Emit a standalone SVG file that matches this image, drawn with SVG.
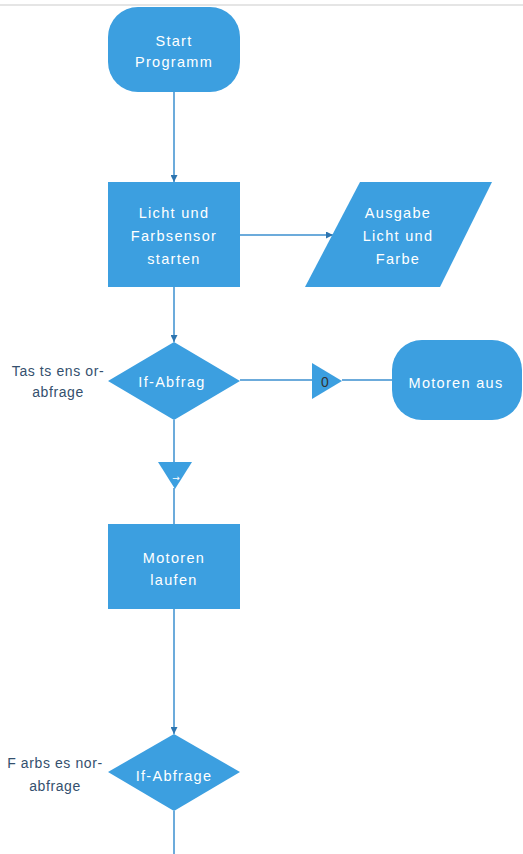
<svg xmlns="http://www.w3.org/2000/svg" width="523" height="854" viewBox="0 0 523 854">
<style>
.n{fill:#3c9fe0;}
.t{font-family:"Liberation Sans",Arial,sans-serif;font-size:14.5px;fill:#ffffff;text-anchor:middle;letter-spacing:1.3px;}
.l{font-family:"Liberation Sans",Arial,sans-serif;font-size:14px;fill:#34506e;text-anchor:middle;letter-spacing:0.6px;}
.c{stroke:#3b8fcf;stroke-width:1.5;fill:none;}
</style>
<defs>
<marker id="a" viewBox="0 0 10 10" refX="10" refY="5" markerWidth="7" markerHeight="7" orient="auto" markerUnits="userSpaceOnUse">
<path d="M0,0 L10,5 L0,10 z" fill="#2d75b0"/>
</marker>
</defs>
<rect width="523" height="854" fill="#ffffff"/>
<line x1="0" y1="5" x2="523" y2="5" stroke="#dddddd" stroke-width="1.5"/>
<g id="connectors">
<line class="c" x1="174" y1="92" x2="174" y2="182" marker-end="url(#a)"/>
<line class="c" x1="240" y1="235" x2="333" y2="235" marker-end="url(#a)"/>
<line class="c" x1="174" y1="287" x2="174" y2="342" marker-end="url(#a)"/>
<line class="c" x1="240" y1="380" x2="312" y2="380"/>
<line class="c" x1="342" y1="380" x2="392" y2="380"/>
<line class="c" x1="174" y1="420" x2="174" y2="462"/>
<line class="c" x1="174" y1="488" x2="174" y2="524"/>
<line class="c" x1="174" y1="609" x2="174" y2="734" marker-end="url(#a)"/>
<line class="c" x1="174" y1="811" x2="174" y2="854"/>
</g>
<g id="start">
<rect class="n" x="108" y="7" width="132" height="85" rx="30" ry="30"/>
<text class="t" x="174" y="46">Start</text>
<text class="t" x="174" y="67">Programm</text>
</g>
<g id="sensor-start">
<rect class="n" x="108" y="182" width="132" height="105"/>
<text class="t" x="174" y="218">Licht und</text>
<text class="t" x="174" y="241">Farbsensor</text>
<text class="t" x="174" y="264">starten</text>
</g>
<g id="ausgabe">
<polygon class="n" points="360,182 492,182 440,287 305,287"/>
<text class="t" x="398" y="218">Ausgabe</text>
<text class="t" x="398" y="241">Licht und</text>
<text class="t" x="398" y="264">Farbe</text>
</g>
<g id="if1">
<polygon class="n" points="174,342 240,381 174,420 108,381"/>
<text class="t" x="172" y="387">If-Abfrag</text>
<text class="l" x="58" y="376">Tas ts ens or-</text>
<text class="l" x="58" y="397">abfrage</text>
</g>
<g id="label0">
<polygon class="n" points="312,363 342,381 312,399"/>
<text class="l" x="325" y="387" style="fill:#333333;letter-spacing:0">0</text>
</g>
<g id="motoren-aus">
<rect class="n" x="392" y="340" width="130" height="80" rx="30" ry="30"/>
<text class="t" x="456" y="388">Motoren aus</text>
</g>
<g id="label1">
<polygon class="n" points="158,462 192,462 175,489"/>
<text x="176" y="481" style="font-family:'DejaVu Sans',sans-serif;font-size:9px;fill:#ffffff;text-anchor:middle;">→</text>
</g>
<g id="motoren-laufen">
<rect class="n" x="108" y="524" width="132" height="85"/>
<text class="t" x="174" y="563">Motoren</text>
<text class="t" x="174" y="585">laufen</text>
</g>
<g id="if2">
<polygon class="n" points="174,734 240,772 174,811 108,772"/>
<text class="t" x="174" y="781">If-Abfrage</text>
<text class="l" x="55" y="768">F arbs es nor-</text>
<text class="l" x="55" y="791">abfrage</text>
</g>
</svg>
